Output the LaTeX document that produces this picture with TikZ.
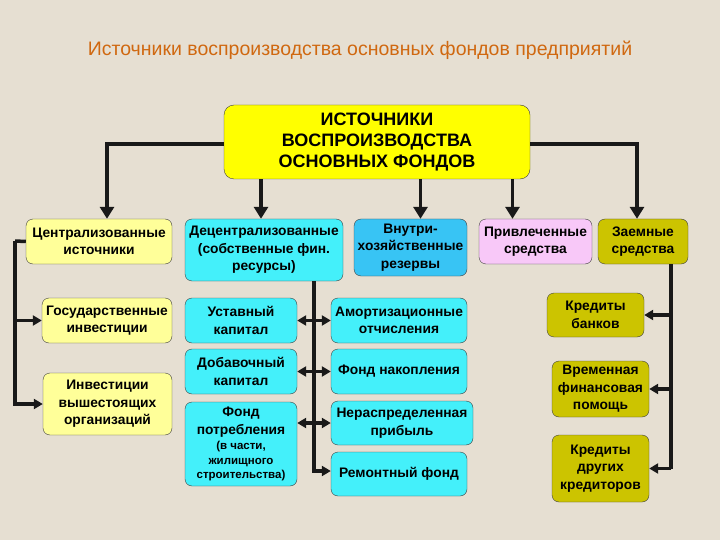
\documentclass[tikz,border=0pt]{standalone}
\usepackage{fontspec}
\setmainfont{Liberation Sans}
\usepackage{xcolor}
\usetikzlibrary{arrows.meta}
\definecolor{bgcol}{HTML}{E6DFD2}
\definecolor{topyellow}{HTML}{FFFF00}
\definecolor{lightyellow}{HTML}{FFFF99}
\definecolor{cyanbox}{HTML}{44F0FA}
\definecolor{bluebox}{HTML}{38C4F4}
\definecolor{pinkbox}{HTML}{F8C8F8}
\definecolor{olivebox}{HTML}{CCC400}
\definecolor{titleorange}{HTML}{D06810}
\newcommand{\smalltxt}[1]{{\fontsize{11.5}{13}\selectfont #1}}
\begin{document}
\begin{tikzpicture}[x=1pt,y=-1pt,
    box/.style={draw=black!75,rounded corners=7pt,align=center,inner sep=1pt,
      font=\bfseries\fontsize{13.8}{17.5}\selectfont},
    top node/.style={box,fill=topyellow,rounded corners=10pt,font=\bfseries\fontsize{18}{21}\selectfont},
    yellow node/.style={box,fill=lightyellow},
    cyan node/.style={box,fill=cyanbox},
    blue node/.style={box,fill=bluebox},
    pink node/.style={box,fill=pinkbox},
    olive node/.style={box,fill=olivebox},
    line/.style={line width=3.5pt,black!90},
    big arrow/.style={line,-{Triangle[length=12pt,width=14pt]}},
    arrow/.style={line,-{Triangle[length=9pt,width=10pt]}},
    both arrow/.style={line,{Triangle[length=9pt,width=10pt]}-{Triangle[length=9pt,width=10pt]}}]
  \fill[bgcol] (0,0) rectangle (720,540);
  \node[text=titleorange,font=\fontsize{19.5}{22}\selectfont] (title) at (360,50)
    {Источники воспроизводства основных фондов предприятий};

  \node[top node,minimum width=306pt,minimum height=74pt] (top) at (377,142)
    {ИСТОЧНИКИ\\ВОСПРОИЗВОДСТВА\\ОСНОВНЫХ ФОНДОВ};

  % first row
  \node[yellow node,minimum width=146pt,minimum height=45pt] (central) at (99,241.5)
    {Централизованные\\источники};
  \node[cyan node,minimum width=158pt,minimum height=62pt] (decentral) at (264,250)
    {Децентрализованные\\(собственные фин.\\ресурсы)};
  \node[blue node,minimum width=113pt,minimum height=57pt] (inner) at (410.5,247.5)
    {Внутри-\\хозяйственные\\резервы};
  \node[pink node,minimum width=113pt,minimum height=45pt] (attracted) at (535.5,241.5)
    {Привлеченные\\средства};
  \node[olive node,minimum width=90pt,minimum height=45pt] (borrowed) at (643,241.5)
    {Заемные\\средства};

  % centralized sources
  \node[yellow node,minimum width=130pt,minimum height=45pt] (state) at (107,320.5)
    {Государственные\\инвестиции};
  \node[yellow node,minimum width=129pt,minimum height=62pt] (higher) at (107.5,404)
    {Инвестиции\\вышестоящих\\организаций};

  % own resources
  \node[cyan node,minimum width=112pt,minimum height=45pt] (charter) at (241,320.5)
    {Уставный\\капитал};
  \node[cyan node,minimum width=112pt,minimum height=45pt] (added) at (241,371.5)
    {Добавочный\\капитал};
  \node[cyan node,minimum width=112pt,minimum height=84pt] (consum) at (241,444)
    {Фонд\\потребления\\[-2pt]\smalltxt{(в части,}\\[-3pt]\smalltxt{жилищного}\\[-3pt]\smalltxt{строительства)}};
  \node[cyan node,minimum width=136pt,minimum height=45pt] (amort) at (399,320.5)
    {Амортизационные\\отчисления};
  \node[cyan node,minimum width=136pt,minimum height=45pt] (accum) at (399,371.5)
    {Фонд накопления};
  \node[cyan node,minimum width=142pt,minimum height=44pt] (profit) at (402,423)
    {Нераспределенная\\прибыль};
  \node[cyan node,minimum width=136pt,minimum height=44pt] (repair) at (399,474)
    {Ремонтный фонд};

  % borrowed funds
  \node[olive node,minimum width=97pt,minimum height=44pt] (banks) at (595.5,315)
    {Кредиты\\банков};
  \node[olive node,minimum width=97pt,minimum height=56pt] (temp) at (600.5,389)
    {Временная\\финансовая\\помощь};
  \node[olive node,minimum width=97pt,minimum height=67pt] (others) at (600.5,468.5)
    {Кредиты\\других\\кредиторов};

  % from the top box
  \draw[big arrow] ([yshift=-2pt]top.west) -| ([xshift=8pt]central.north);
  \draw[big arrow] ([yshift=-2pt]top.east) -| ([xshift=-6pt]borrowed.north);
  \draw[big arrow] ([xshift=-3pt]decentral.north |- top.south) -- ([xshift=-3pt]decentral.north);
  \draw[big arrow] ([xshift=10pt]inner.north |- top.south) -- ([xshift=10pt]inner.north);
  \draw[big arrow] ([xshift=-23pt]attracted.north |- top.south) -- ([xshift=-23pt]attracted.north);

  % centralized
  \coordinate (cl) at (15,241);
  \draw[line] (central.west) -- (cl);
  \draw[arrow] (cl) |- (higher.west);
  \draw[arrow] (cl |- state.west) -- (state.west);

  % decentralized
  \coordinate (dv) at (314,281);
  \draw[arrow] (dv) |- ([yshift=3pt]repair.west);
  \draw[both arrow] (charter.east) -- (amort.west);
  \draw[both arrow] (added.east) -- (accum.west);
  \draw[both arrow] (consum.east |- profit.west) -- (profit.west);

  % borrowed
  \coordinate (zv) at ([xshift=28pt]borrowed.south);
  \draw[line] (zv) -- (zv |- others.east);
  \draw[arrow] (zv |- banks.east) -- (banks.east);
  \draw[arrow] (zv |- temp.east) -- (temp.east);
  \draw[arrow] (zv |- others.east) -- (others.east);
\end{tikzpicture}
\end{document}
